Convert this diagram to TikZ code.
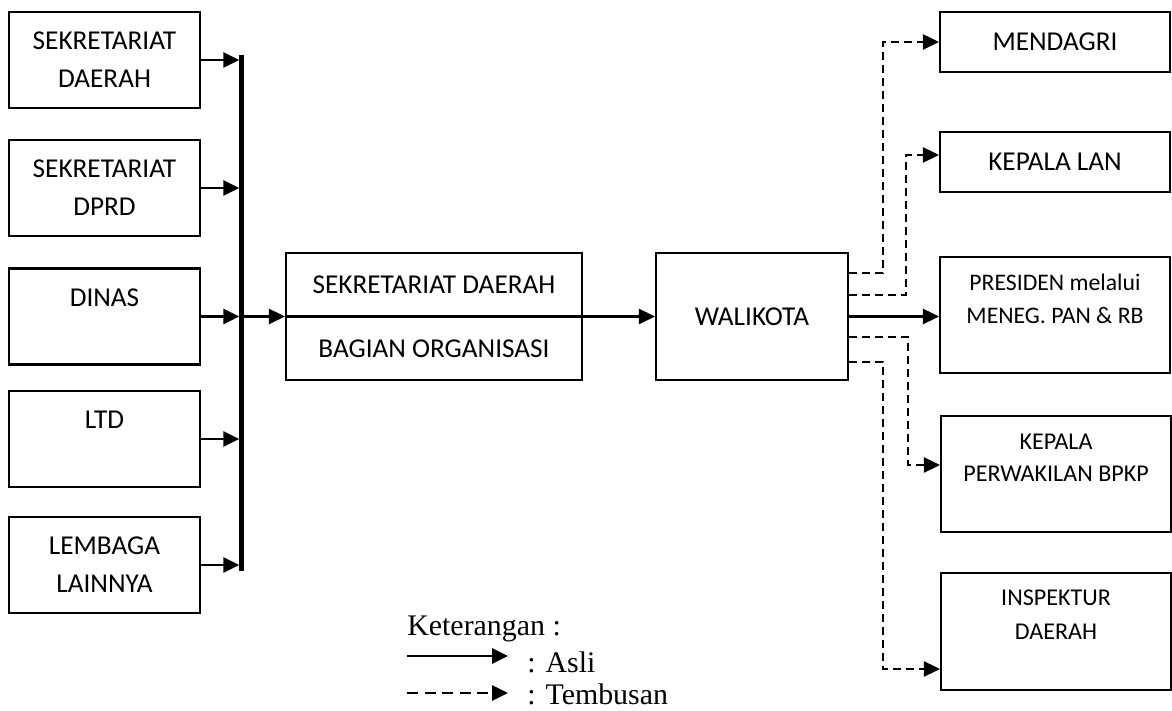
\documentclass[tikz,border=0pt]{standalone}
\usepackage{fontspec}
\setmainfont{Carlito}
\newfontfamily\legendfont{Liberation Serif}
\usetikzlibrary{arrows.meta}

\begin{document}
\begin{tikzpicture}[
    box/.style={draw, line width=1.2pt, align=center, inner sep=0pt, font=\fontsize{15.5}{21.6}\selectfont},
    unit/.style={box, minimum width=3.82cm, minimum height=1.92cm},
    tujuan/.style={box, minimum width=4.6cm},
    asli/.style={line width=1.5pt, -{Triangle[length=0.32cm, width=0.3cm]}},
    tembusan/.style={asli, dash pattern=on 0.16cm off 0.1cm},
    bus/.style={line width=0.09cm},
    ket/.style={font=\legendfont\fontsize{17}{20}\selectfont, anchor=base west, inner sep=0pt},
]
\useasboundingbox (0,0) rectangle (23.44,14.2);

% Unit kerja pengusul (kiri)
\node[unit] (setdaerah) at (2.09,13.0) {SEKRETARIAT\\DAERAH};
\node[unit] (dprd) at (2.09,10.44) {SEKRETARIAT\\DPRD};
\node[unit] (dinas) at (2.09,7.87) {DINAS\\~};
\node[unit] (ltd) at (2.09,5.42) {LTD\\~};
\node[unit] (lembaga) at (2.09,2.90) {LEMBAGA\\LAINNYA};

% Garis pengumpul
\coordinate (bustop) at (4.83,13.1);
\coordinate (busbot) at (4.83,2.78);
\draw[bus] (bustop) -- (busbot);
\foreach \u in {setdaerah,dprd,dinas,ltd,lembaga}
    \draw[asli, shorten >=0.045cm] (\u.east) -- (\u.east -| bustop);

% Bagian organisasi dan walikota
\node[box, minimum width=5.92cm, minimum height=2.54cm] (bagorg) at (8.68,7.87)
    {SEKRETARIAT DAERAH\\[0.52cm]BAGIAN ORGANISASI};
\draw[line width=1.2pt] (bagorg.west) -- (bagorg.east);
\node[box, minimum width=3.84cm, minimum height=2.54cm] (walikota) at (15.04,7.87) {WALIKOTA};

\draw[asli] (dinas.east -| bustop) -- (bagorg.west);
\draw[asli] (bagorg.east) -- (walikota.west);

% Tujuan (kanan)
\node[tujuan, minimum height=1.2cm] (mendagri) at (21.1,13.36) {MENDAGRI};
\node[tujuan, minimum height=1.2cm] (lan) at (21.1,10.96) {KEPALA LAN};
\node[tujuan, minimum height=2.32cm, font=\fontsize{13.5}{18.7}\selectfont] (presiden) at (21.1,7.9)
    {PRESIDEN melalui\\MENEG. PAN \& RB\\~};
\node[tujuan, minimum height=2.32cm, font=\fontsize{13.7}{18.1}\selectfont] (bpkp) at (21.12,4.72)
    {KEPALA\\PERWAKILAN BPKP\\~};
\node[tujuan, minimum height=2.34cm, font=\fontsize{13.7}{19.3}\selectfont] (inspektur) at (21.12,1.57)
    {INSPEKTUR\\DAERAH\\~};

\draw[asli] (walikota.east) -- (walikota.east -| presiden.west);
\draw[tembusan] ([yshift=0.87cm]walikota.east) -- ++(0.68,0) |- (mendagri.west);
\draw[tembusan] ([yshift=0.43cm]walikota.east) -- ++(1.14,0) |- ([yshift=0.14cm]lan.west);
\draw[tembusan] ([yshift=-0.41cm]walikota.east) -- ++(1.18,0) |- ([yshift=0.18cm]bpkp.west);
\draw[tembusan] ([yshift=-0.91cm]walikota.east) -- ++(0.68,0) |- ([yshift=-0.75cm]inspektur.west);

% Keterangan
\node[ket] (keterangan) at (8.14,1.5) {Keterangan :};
\coordinate (aslia) at (8.14,1.08);
\coordinate (aslib) at (10.16,1.08);
\coordinate (tembusana) at (8.14,0.34);
\coordinate (tembusanb) at (10.16,0.34);
\draw[asli] (aslia) -- (aslib);
\draw[tembusan, dash pattern=on 0.22cm off 0.13cm] (tembusana) -- (tembusanb);
\node[ket] (lasli) at (10.54,0.76) {: Asli};
\node[ket] (ltembusan) at (10.54,0.12) {: Tembusan};

\end{tikzpicture}
\end{document}
